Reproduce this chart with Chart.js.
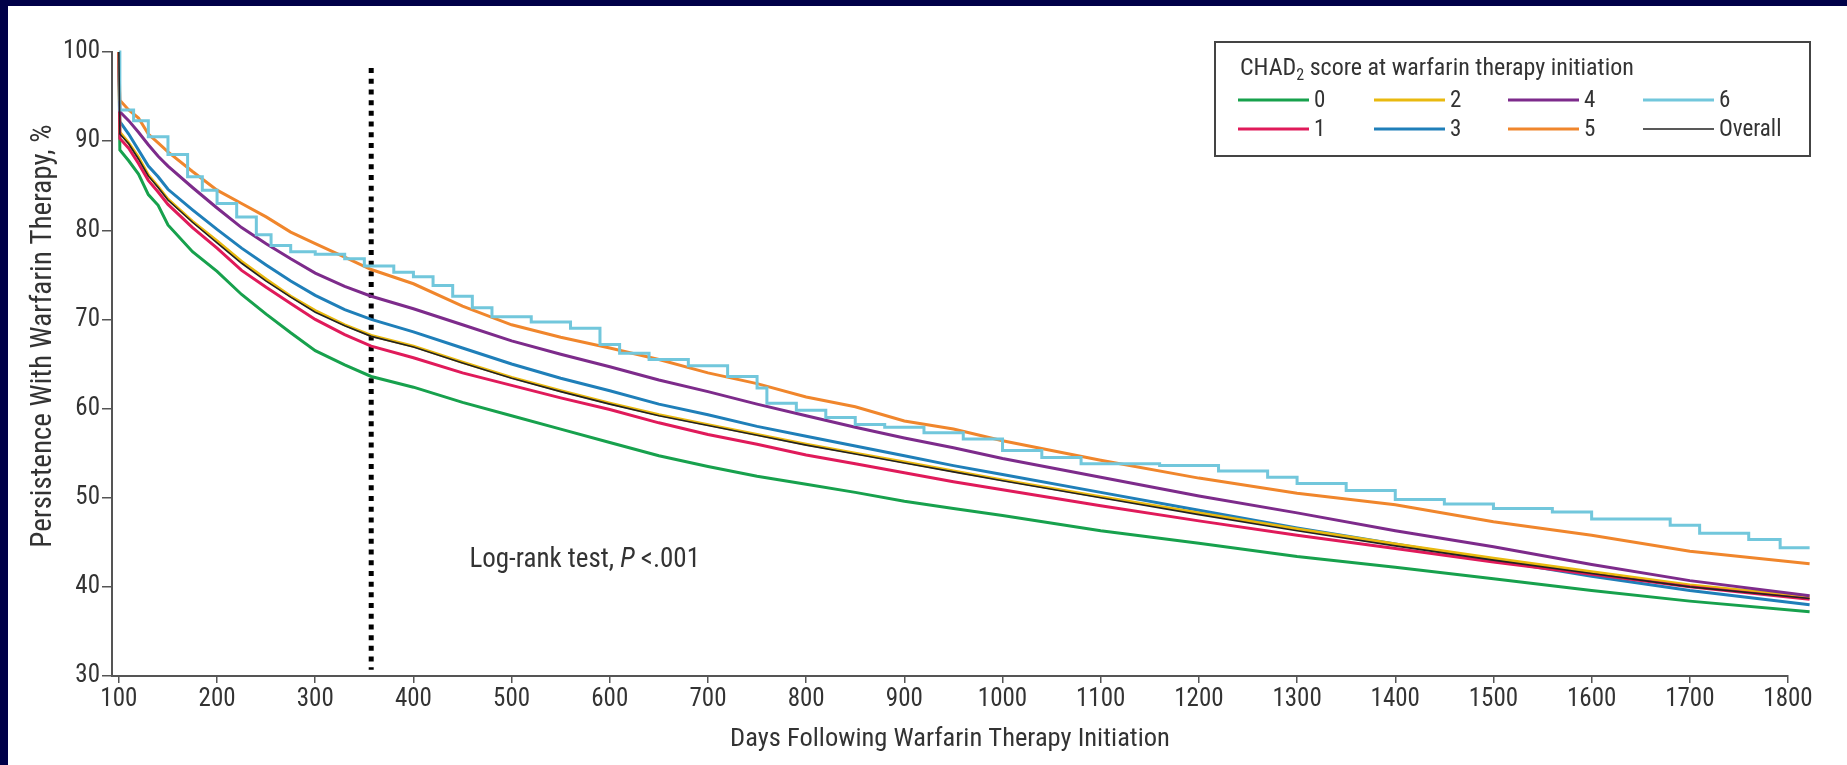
<!DOCTYPE html>
<html>
<head>
<meta charset="utf-8">
<script src="https://cdn.jsdelivr.net/npm/chart.js@4.4.1/dist/chart.umd.min.js"></script>
<style>
  html, body { margin: 0; padding: 0; background: #000048; overflow: hidden; }
  #panel { position: absolute; left: 8px; top: 6px; width: 1839px; height: 759px; background: #fff; }
</style>
</head>
<body>
<div id="panel"><canvas id="kmChart" width="1839" height="759"></canvas></div>
<script>
// days after warfarin start, shared by the smooth curves
const days = [100, 101, 110, 120, 130, 140, 150, 175, 200, 225, 250, 275, 300, 330, 357, 400, 450, 500, 550, 600,
  650, 700, 750, 800, 850, 900, 950, 1000, 1100, 1200, 1300, 1400, 1500, 1600, 1700, 1822];

// persistence (%) per CHADS2 score
const score0 = [100, 89.0, 87.8, 86.3, 84.0, 82.8, 80.6, 77.6, 75.4, 72.8, 70.6, 68.5, 66.5, 64.9, 63.6, 62.4, 60.7, 59.2, 57.7, 56.2,
  54.7, 53.5, 52.4, 51.5, 50.6, 49.6, 48.8, 48.0, 46.3, 44.9, 43.4, 42.2, 40.9, 39.6, 38.4, 37.2];
const score1 = [100, 90.3, 89.2, 87.5, 85.6, 84.3, 82.9, 80.3, 78.0, 75.5, 73.6, 71.8, 70.0, 68.3, 67.0, 65.7, 64.0, 62.6, 61.2, 59.9,
  58.4, 57.1, 56.0, 54.8, 53.8, 52.8, 51.8, 50.9, 49.1, 47.4, 45.8, 44.3, 42.8, 41.4, 40.0, 38.6];
const score2 = [100, 91.0, 89.8, 88.2, 86.2, 84.9, 83.5, 81.0, 78.8, 76.5, 74.5, 72.6, 71.0, 69.4, 68.2, 67.0, 65.2, 63.5, 62.0, 60.6,
  59.3, 58.2, 57.1, 56.0, 55.0, 54.0, 53.0, 52.0, 50.1, 48.3, 46.5, 44.8, 43.2, 41.7, 40.2, 38.9];
const score3 = [100, 92.2, 90.8, 89.0, 87.2, 86.0, 84.6, 82.3, 80.1, 78.0, 76.1, 74.3, 72.7, 71.1, 70.0, 68.6, 66.8, 65.0, 63.4, 62.0,
  60.5, 59.3, 58.0, 56.9, 55.8, 54.7, 53.6, 52.6, 50.6, 48.6, 46.6, 44.8, 43.0, 41.2, 39.6, 38.0];
const score4 = [100, 93.3, 92.3, 91.0, 89.6, 88.3, 87.2, 84.8, 82.5, 80.3, 78.5, 76.8, 75.2, 73.7, 72.6, 71.2, 69.4, 67.6, 66.1, 64.7,
  63.2, 61.9, 60.5, 59.2, 57.9, 56.7, 55.6, 54.4, 52.3, 50.2, 48.3, 46.3, 44.5, 42.5, 40.7, 39.0];
const score5 = [100, 94.6, 93.5, 92.6, 90.8, 89.8, 88.8, 86.6, 84.5, 83.0, 81.5, 79.8, 78.5, 77.0, 75.6, 74.0, 71.5, 69.4, 68.0, 66.8,
  65.5, 64.0, 62.8, 61.3, 60.2, 58.6, 57.7, 56.4, 54.2, 52.2, 50.5, 49.2, 47.3, 45.8, 44.0, 42.6];
const overall = [100, 90.8, 89.7, 88.0, 86.1, 84.8, 83.4, 80.9, 78.6, 76.3, 74.3, 72.5, 70.8, 69.3, 68.1, 66.9, 65.1, 63.4, 61.9, 60.5,
  59.2, 58.1, 57.0, 55.9, 54.9, 53.9, 52.9, 51.9, 50.0, 48.1, 46.3, 44.6, 43.0, 41.5, 40.0, 38.7];

// score 6 is a small group, drawn as a step curve
const score6Days = [100, 101, 115, 130, 150, 170, 185, 200, 220, 240, 255, 275, 300, 330, 350, 380, 400, 420, 440, 460,
  480, 520, 560, 590, 610, 640, 680, 720, 750, 760, 790, 820, 850, 880, 920, 960, 1000, 1040, 1080, 1160,
  1220, 1270, 1300, 1350, 1400, 1450, 1500, 1560, 1600, 1680, 1710, 1760, 1792, 1822];
const score6Pct = [100, 93.5, 92.3, 90.5, 88.5, 86.0, 84.5, 83.0, 81.5, 79.5, 78.3, 77.6, 77.3, 76.8, 76.0, 75.3, 74.8, 73.8, 72.6, 71.3,
  70.3, 69.7, 69.0, 67.2, 66.2, 65.5, 64.8, 63.6, 62.3, 60.6, 59.8, 59.0, 58.2, 57.9, 57.3, 56.6, 55.3, 54.5, 53.8, 53.6,
  53.0, 52.3, 51.6, 50.8, 49.8, 49.3, 48.8, 48.4, 47.6, 46.9, 46.0, 45.3, 44.4, 44.4];

const seriesLabels = ['0', '1', '2', '3', '4', '5', '6', 'Overall'];
const seriesColors = ['#17a14d', '#e01a5a', '#e9b90f', '#1f7fb9', '#7d2b8b', '#f0862c', '#72c7dc', '#222222'];

const xTicks = [100, 200, 300, 400, 500, 600, 700, 800, 900, 1000, 1100, 1200, 1300, 1400, 1500, 1600, 1700, 1800];
const yTicks = [30, 40, 50, 60, 70, 80, 90, 100];

// 1-year cut line
const cutDays = [357, 357];
const cutPct = [98.2, 30.7];

const fontStack = "'Roboto Condensed', 'Liberation Sans Narrow', 'DejaVu Sans Condensed', sans-serif";
Chart.defaults.font.family = fontStack;
Chart.defaults.color = '#333';

function toPoints(xs, ys) {
    return xs.map((x, i) => ({ x: x, y: ys[i] }));
}

let curves = [score0, score1, score2, score3, score4, score5, null, overall];
let drawOrder = [7, 4, 5, 6, 3, 2, 1, 0];

let datasets = seriesLabels.map((label, i) => ({
    label: label,
    data: i === 6 ? toPoints(score6Days, score6Pct) : toPoints(days, curves[i]),
    borderColor: seriesColors[i],
    borderWidth: i === 7 ? 1.6 : 3,
    stepped: i === 6 ? 'before' : false,
    order: drawOrder[i],
    clip: false
}));

datasets.push({
    label: 'cut',
    data: toPoints(cutDays, cutPct),
    borderColor: '#000',
    borderWidth: 5,
    borderDash: [5, 5.7],
    order: 9,
    clip: false
});

// legend box and free text
const extrasPlugin = {
    id: 'extras',
    afterDraw(chart) {
        const ctx = chart.ctx;
        const xs = chart.scales.x, ys = chart.scales.y;
        ctx.save();

        // y axis title
        ctx.translate(36, 330);
        ctx.rotate(-Math.PI / 2);
        ctx.font = '29px ' + fontStack;
        ctx.fillStyle = '#333';
        ctx.textAlign = 'center';
        ctx.textBaseline = 'middle';
        ctx.fillText('Persistence With Warfarin Therapy, %', 0, 0);
        ctx.setTransform(1, 0, 0, 1, 0, 0);

        // log-rank note
        let tx = xs.getPixelForValue(457);
        let ty = ys.getPixelForValue(42.2);
        ctx.textAlign = 'left';
        ctx.textBaseline = 'alphabetic';
        ctx.font = '27px ' + fontStack;
        ctx.fillText('Log-rank test, ', tx, ty);
        tx += ctx.measureText('Log-rank test, ').width;
        ctx.font = 'italic 27px ' + fontStack;
        ctx.fillText('P', tx, ty);
        tx += ctx.measureText('P').width + 6;
        ctx.font = '27px ' + fontStack;
        ctx.fillText('<.001', tx, ty);

        // legend
        ctx.strokeStyle = '#444';
        ctx.lineWidth = 2;
        ctx.strokeRect(1207, 36, 595, 114);
        ctx.font = '24px ' + fontStack;
        let lx = 1232;
        ctx.fillText('CHAD', lx, 69);
        lx += ctx.measureText('CHAD').width;
        ctx.font = '16px ' + fontStack;
        ctx.fillText('2', lx, 74);
        lx += ctx.measureText('2').width;
        ctx.font = '24px ' + fontStack;
        ctx.fillText(' score at warfarin therapy initiation', lx, 69);

        let colX = [1230, 1366, 1500, 1635];
        let rowY = [94, 123];
        ctx.textBaseline = 'middle';
        ctx.font = '23px ' + fontStack;
        for (let i = 0; i < 8; i++) {
            let ds = chart.data.datasets[i];
            let cx = colX[Math.floor(i / 2)];
            let cy = rowY[i % 2];
            ctx.strokeStyle = ds.borderColor;
            ctx.lineWidth = ds.borderWidth;
            ctx.beginPath();
            ctx.moveTo(cx, cy);
            ctx.lineTo(cx + 71, cy);
            ctx.stroke();
            ctx.fillStyle = '#333';
            ctx.fillText(ds.label, cx + 76, cy + 1);
        }
        ctx.restore();
    }
};

new Chart(document.getElementById('kmChart'), {
    type: 'line',
    data: { datasets: datasets },
    options: {
        responsive: false,
        animation: false,
        layout: { padding: { top: 46, right: 59, bottom: 0, left: 0 } },
        plugins: { legend: { display: false }, tooltip: { enabled: false } },
        elements: { point: { radius: 0 }, line: { tension: 0 } },
        scales: {
            x: {
                type: 'linear',
                min: 93,
                max: 1800,
                afterFit: (s) => { s.height = 89; },
                afterBuildTicks: (s) => { s.ticks = xTicks.map(v => ({ value: v })); },
                grid: { display: true, drawOnChartArea: false, drawTicks: true, tickLength: 7, color: '#555', lineWidth: 1.5 },
                border: { color: '#555', width: 2 },
                ticks: { font: { size: 25 }, color: '#333', padding: 2, maxRotation: 0, autoSkip: false, callback: (v) => String(v) },
                title: {
                    display: true,
                    text: 'Days Following Warfarin Therapy Initiation',
                    font: { size: 26.5 },
                    color: '#333',
                    padding: { top: 0, bottom: 10 }
                }
            },
            y: {
                type: 'linear',
                min: 30,
                max: 100,
                afterFit: (s) => { s.width = 104; },
                afterBuildTicks: (s) => { s.ticks = yTicks.map(v => ({ value: v })); },
                grid: { display: true, drawOnChartArea: false, drawTicks: true, tickLength: 10, color: '#555', lineWidth: 1.5 },
                border: { color: '#555', width: 2 },
                ticks: { font: { size: 25 }, color: '#333', padding: 2, callback: (v) => String(v) }
            }
        }
    },
    plugins: [extrasPlugin]
});
</script>
</body>
</html>
